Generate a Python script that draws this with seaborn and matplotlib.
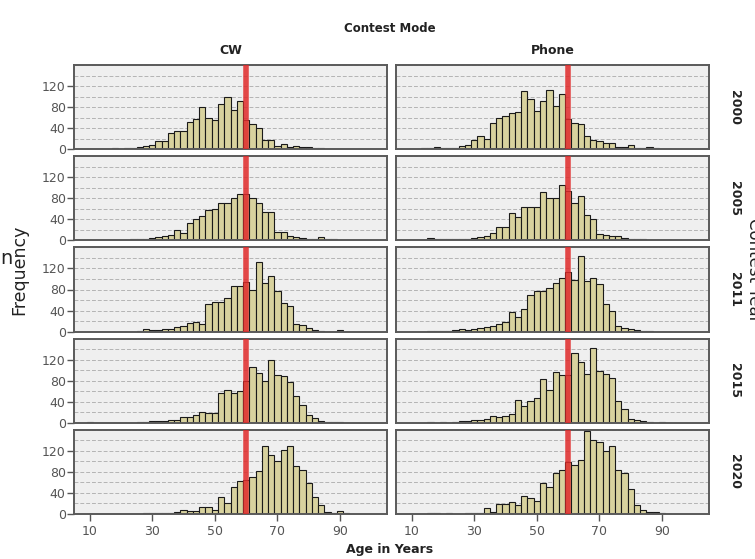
#!/usr/bin/env python3

import numpy as np
import pandas as pd
import matplotlib
matplotlib.use("Agg")
import matplotlib.pyplot as plt
import seaborn as sns

# bin centres (2-year bins, edges on odd ages)
ages = list(range(10, 94, 2))
modes = ["CW", "Phone"]
years = ["2000", "2005", "2011", "2015", "2020"]

cw_2000 = [0, 1, 1, 1, 2, 0, 2, 3, 5, 6, 8, 15, 15, 30, 34, 34, 51, 58, 81, 60,
           55, 85, 100, 75, 92, 55, 47, 40, 18, 18, 7, 10, 5, 6, 5, 4, 3, 2, 1, 0, 0, 0]
cw_2005 = [0, 0, 0, 1, 1, 1, 1, 2, 2, 3, 4, 6, 9, 11, 19, 15, 34, 40, 47, 57,
           59, 71, 71, 80, 88, 88, 80, 71, 54, 54, 16, 16, 8, 6, 4, 3, 2, 7, 3, 2, 1, 0]
cw_2011 = [0, 0, 0, 0, 0, 0, 0, 0, 1, 4, 3, 3, 4, 4, 9, 10, 17, 19, 14, 53,
           57, 57, 64, 86, 86, 95, 80, 133, 93, 106, 77, 54, 49, 15, 13, 6, 3, 2, 0, 0, 3, 0]
cw_2015 = [2, 0, 0, 0, 0, 0, 0, 0, 1, 2, 3, 3, 3, 6, 5, 11, 11, 15, 21, 18,
           18, 56, 62, 56, 61, 79, 106, 95, 80, 120, 91, 89, 77, 50, 33, 14, 9, 4, 2, 2, 1, 0]
cw_2020 = [0, 0, 0, 0, 0, 0, 0, 0, 0, 1, 1, 1, 2, 2, 4, 7, 5, 5, 13, 13,
           8, 32, 21, 52, 62, 65, 71, 81, 129, 112, 100, 122, 130, 92, 84, 59, 33, 18, 3, 2, 5, 1]

phone_2000 = [0, 1, 2, 2, 4, 2, 2, 3, 6, 8, 18, 25, 20, 50, 59, 63, 69, 71, 110, 95,
              73, 92, 112, 82, 104, 57, 50, 47, 25, 18, 15, 11, 11, 5, 4, 8, 3, 2, 4, 2, 1, 0]
phone_2005 = [0, 0, 1, 4, 2, 2, 2, 2, 3, 3, 5, 6, 8, 14, 25, 25, 52, 44, 63, 63,
              63, 92, 81, 81, 106, 93, 71, 85, 49, 41, 13, 11, 9, 8, 5, 3, 2, 2, 1, 1, 0, 0]
phone_2011 = [0, 0, 0, 1, 1, 1, 1, 3, 4, 3, 4, 6, 9, 11, 15, 18, 38, 28, 43, 69,
              78, 78, 82, 93, 101, 114, 99, 143, 97, 101, 91, 53, 40, 11, 6, 4, 3, 2, 1, 0, 0, 0]
phone_2015 = [0, 0, 0, 1, 0, 1, 0, 1, 3, 4, 5, 6, 8, 13, 11, 13, 16, 43, 32, 42,
              48, 84, 62, 97, 90, 90, 133, 115, 93, 143, 98, 93, 86, 42, 27, 8, 5, 3, 1, 0, 1, 0]
phone_2020 = [0, 0, 0, 1, 1, 0, 1, 0, 0, 1, 1, 2, 11, 3, 19, 19, 23, 18, 35, 30,
              25, 59, 51, 78, 84, 99, 93, 103, 158, 141, 136, 119, 130, 84, 78, 48, 18, 8, 4, 3, 2, 0]

cutoff_age = 60
x_ticks = [10, 30, 50, 70, 90]
y_ticks = [0, 40, 80, 120]

counts = {
    ("CW", "2000"): cw_2000, ("CW", "2005"): cw_2005, ("CW", "2011"): cw_2011,
    ("CW", "2015"): cw_2015, ("CW", "2020"): cw_2020,
    ("Phone", "2000"): phone_2000, ("Phone", "2005"): phone_2005, ("Phone", "2011"): phone_2011,
    ("Phone", "2015"): phone_2015, ("Phone", "2020"): phone_2020,
}

rows = []
for (mode, year), vals in counts.items():
    for a, n in zip(ages, vals):
        rows.append([mode, year, a, n])
df = pd.DataFrame(rows, columns=["mode", "year", "age", "count"])

sns.set_style("white")
plt.rcParams["font.family"] = ["DejaVu Sans"]

W, H = 755, 559
bar_color = "#d8d29e"
text_dark = "#222222"
tick_grey = "#555555"

g = sns.FacetGrid(df, row="year", col="mode", row_order=years, col_order=modes,
                  height=0.84, aspect=313 / 84, sharex=True, sharey=True, despine=False)
g.map_dataframe(sns.histplot, x="age", weights="count", binwidth=2,
                binrange=(ages[0] - 1, ages[-1] + 1),
                color=bar_color, edgecolor="#1a1a1a", linewidth=0.8, alpha=1)

fig = g.figure
fig.set_size_inches(W / 100, H / 100)
fig.subplots_adjust(left=74 / W, right=709 / W, top=1 - 65 / H, bottom=1 - 514 / H,
                    wspace=9 / 313, hspace=7 / 84.2)

for i, year in enumerate(years):
    for j, mode in enumerate(modes):
        ax = g.axes[i][j]
        ax.set_title("")
        ax.set_xlabel("")
        ax.set_ylabel("")
        ax.set_facecolor("#efefef")
        ax.set_xlim(5, 105)
        ax.set_ylim(0, 160)
        ax.set_xticks(x_ticks)
        ax.set_yticks(y_ticks)
        ax.set_yticks(np.arange(0, 161, 20), minor=True)
        ax.set_axisbelow(True)
        ax.grid(axis="y", which="both", ls=(0, (4, 2)), color="#b4b4b4", lw=0.7)
        ax.grid(axis="x", visible=False)
        ax.axvline(cutoff_age, color="#e02a2a", lw=4, alpha=0.85, zorder=5)
        for sp in ax.spines.values():
            sp.set_color("#5a5a5a")
            sp.set_linewidth(1.4)
        ax.tick_params(which="minor", length=0)
        ax.tick_params(axis="y", which="major", left=(j == 0), length=5, width=1,
                       color=tick_grey, labelcolor=tick_grey, labelsize=9, pad=1,
                       labelleft=(j == 0))
        ax.tick_params(axis="x", which="major", bottom=(i == len(years) - 1), length=5, width=1,
                       color=tick_grey, labelcolor=tick_grey, labelsize=9, pad=3,
                       labelbottom=(i == len(years) - 1))

        if j == 1:
            pos = ax.get_position()
            fig.text(735 / W, (pos.y0 + pos.y1) / 2, year, rotation=270, ha="center",
                     va="center", fontsize=9, fontweight="bold", color=text_dark)

# column titles and overall labels
fig.text(390 / W, 1 - 28 / H, "Contest Mode", ha="center", va="center",
         fontsize=8.5, fontweight="bold", color=text_dark)
fig.text(231 / W, 1 - 51 / H, "CW", ha="center", va="center",
         fontsize=9, fontweight="bold", color=text_dark)
fig.text(553 / W, 1 - 51 / H, "Phone", ha="center", va="center",
         fontsize=9, fontweight="bold", color=text_dark)
fig.text(390 / W, 1 - 549 / H, "Age in Years", ha="center", va="center",
         fontsize=9, fontweight="bold", color=text_dark)
fig.text(19 / W, 1 - 270 / H, "Frequency", rotation=90, ha="center", va="center",
         fontsize=12.5, color=text_dark)
fig.text(754 / W, 1 - 270 / H, "Contest Year", rotation=270, ha="center", va="center",
         fontsize=12, color=text_dark)
fig.text(0, 1 - 258 / H, "n", ha="left", va="center", fontsize=14, color=text_dark)

fig.savefig("out.png", dpi=100)
